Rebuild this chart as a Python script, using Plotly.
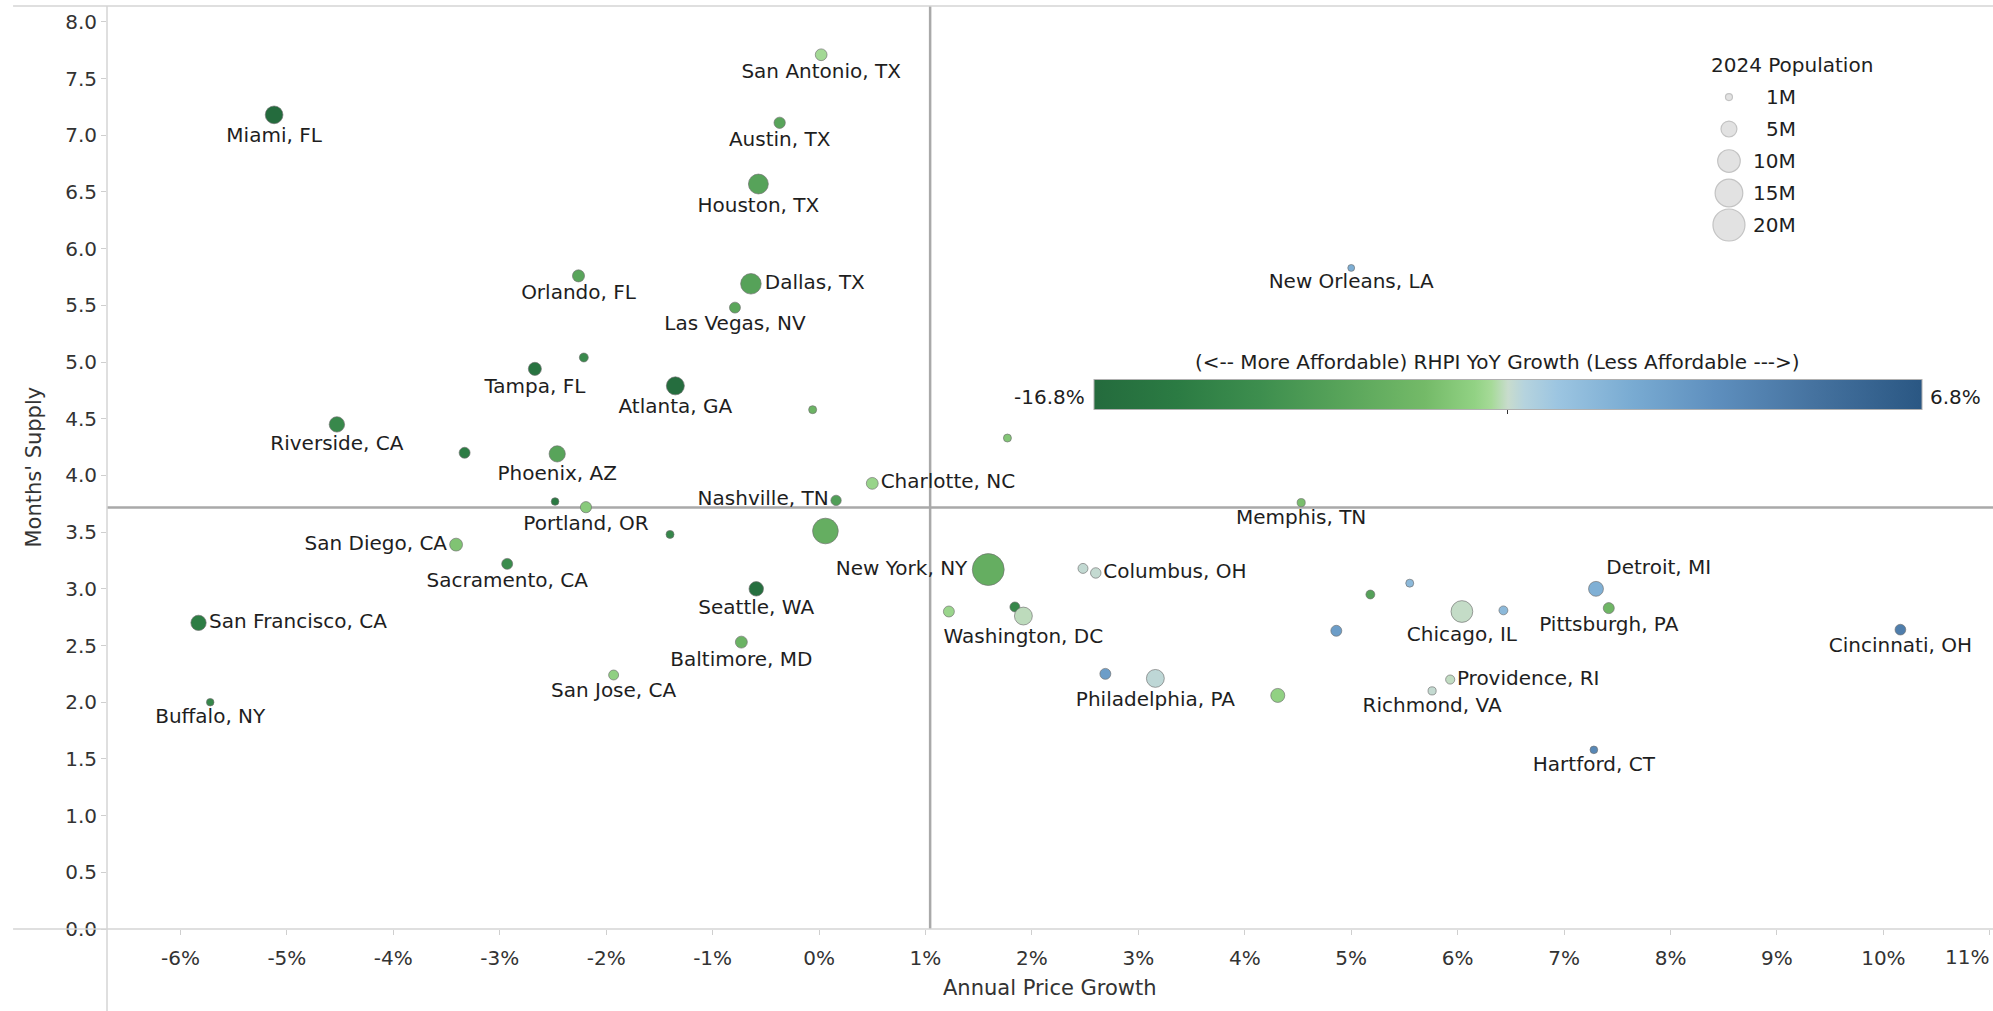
import numpy as np
import plotly.graph_objects as go

# ---------------- data ----------------
cities = [
    "Miami, FL", "Riverside, CA", "", "San Antonio, TX", "Austin, TX",
    "Houston, TX", "Orlando, FL", "Dallas, TX", "Las Vegas, NV", "Tampa, FL",
    "", "Atlanta, GA", "", "Phoenix, AZ", "Charlotte, NC",
    "New Orleans, LA", "", "", "Portland, OR", "Nashville, TN",
    "", "Sacramento, CA", "", "New York, NY", "Seattle, WA",
    "", "Baltimore, MD", "San Jose, CA", "San Diego, CA", "San Francisco, CA",
    "Buffalo, NY", "Memphis, TN", "", "Columbus, OH", "",
    "Washington, DC", "", "", "", "Chicago, IL",
    "", "", "Philadelphia, PA", "", "Providence, RI",
    "Richmond, VA", "Detroit, MI", "Pittsburgh, PA", "Cincinnati, OH", "Hartford, CT",
]
price_growth = [  # annual price growth, %
    -5.12, -4.53, -3.33, 0.02, -0.37,
    -0.57, -2.26, -0.64, -0.79, -2.67,
    -2.21, -1.35, -0.06, -2.46, 0.50,
    5.00, 1.77, -2.48, -2.19, 0.16,
    -1.40, -2.93, 0.06, 1.59, -0.59,
    1.22, -0.73, -1.93, -3.41, -5.83,
    -5.72, 4.53, 2.48, 2.60, 1.84,
    1.92, 5.18, 5.55, 4.86, 6.04,
    6.43, 2.69, 3.16, 4.31, 5.93,
    5.76, 7.30, 7.42, 10.16, 7.28,
]
months_supply = [
    7.18, 4.45, 4.20, 7.71, 7.11,
    6.57, 5.76, 5.69, 5.48, 4.94,
    5.04, 4.79, 4.58, 4.19, 3.93,
    5.83, 4.33, 3.77, 3.72, 3.78,
    3.48, 3.22, 3.51, 3.17, 3.00,
    2.80, 2.53, 2.24, 3.39, 2.70,
    2.00, 3.76, 3.18, 3.14, 2.84,
    2.76, 2.95, 3.05, 2.63, 2.80,
    2.81, 2.25, 2.21, 2.06, 2.20,
    2.10, 3.00, 2.83, 2.64, 1.58,
]
population_m = [  # 2024 population, millions
    6.2, 4.7, 2.4, 2.76, 2.55,
    7.8, 2.9, 8.3, 2.4, 3.4,
    1.6, 6.4, 1.3, 5.2, 2.8,
    0.96, 1.3, 1.2, 2.5, 2.15,
    1.3, 2.4, 12.9, 19.9, 4.15,
    2.4, 2.85, 2.0, 3.3, 4.65,
    1.15, 1.34, 2.0, 2.2, 2.0,
    6.3, 1.6, 1.3, 2.4, 9.3,
    1.6, 2.4, 6.3, 3.9, 1.68,
    1.35, 4.4, 2.43, 2.3, 1.2,
]
rhpi_growth = [  # RHPI YoY growth, %
    -16.8, -12.8, -14.3, -5.55, -9.7,
    -9.8, -9.6, -9.9, -9.5, -15.6,
    -12.6, -16.5, -8.0, -9.7, -5.8,
    -1.7, -6.65, -14.8, -6.4, -10.4,
    -13.0, -12.3, -8.6, -8.6, -16.2,
    -5.75, -8.1, -6.05, -6.8, -14.2,
    -13.0, -7.1, -4.85, -4.9, -12.9,
    -5.15, -10.0, -2.6, -0.3, -5.05,
    -2.6, -0.3, -4.75, -6.0, -5.1,
    -4.9, -1.9, -7.8, 2.55, 1.6,
]
rhpi_min, rhpi_max = -16.8, 6.8
legend_pops = [1, 5, 10, 15, 20]
legend_labels = ["1M", "5M", "10M", "15M", "20M"]
x_tick_vals = list(range(-6, 12))
x_tick_text = [f"{v}%" for v in x_tick_vals]

# label placement (style)
label_side = {
    "Dallas, TX": "middle right", "Charlotte, NC": "middle right",
    "San Francisco, CA": "middle right", "Columbus, OH": "middle right",
    "Providence, RI": "middle right",
    "Nashville, TN": "middle left", "San Diego, CA": "middle left",
    "New York, NY": "middle left",
    "Detroit, MI": "top right",
}
text_pos = [label_side.get(c, "bottom center") for c in cities]

FONT = "DejaVu Sans"
TXT = "#1e1e1e"


def diam(p):
    return 7.2 * np.sqrt(np.asarray(p, dtype=float)) - 0.2


colorscale = [
    [0.0, "#246b3d"], [0.1, "#2b7b43"], [0.2, "#3d8e4e"], [0.3, "#58a45a"],
    [0.4, "#74ba68"], [0.46, "#92d284"], [0.48, "#a6da98"], [0.5, "#c8dccd"],
    [0.52, "#b5d3de"], [0.56, "#9cc5e1"], [0.65, "#79abd2"], [0.75, "#5e8fbe"],
    [0.87, "#45729f"], [1.0, "#2a5783"],
]

fig = go.Figure()

# reference lines (averages)
avg_x = float(np.mean(price_growth))
avg_y = float(np.mean(months_supply))
fig.add_shape(type="line", xref="x", yref="paper", x0=avg_x, x1=avg_x, y0=0, y1=1,
              line=dict(color="#a9a9a9", width=2.5), layer="below")
fig.add_shape(type="line", xref="paper", yref="y", x0=0, x1=1, y0=avg_y, y1=avg_y,
              line=dict(color="#a9a9a9", width=2.5), layer="below")

fig.add_trace(go.Scatter(
    x=price_growth, y=months_supply, mode="markers+text",
    text=cities, textposition=text_pos,
    textfont=dict(family=FONT, size=20, color=TXT),
    marker=dict(
        size=diam(population_m), sizemode="diameter",
        color=rhpi_growth, colorscale=colorscale, cmin=rhpi_min, cmax=rhpi_max,
        line=dict(color="rgba(110,110,110,0.65)", width=1),
        opacity=1,
        colorbar=dict(
            orientation="h", x=0.7428, xanchor="center", y=0.5764, yanchor="middle",
            len=0.439, lenmode="fraction", thickness=30, thicknessmode="pixels",
            outlinecolor="#b0b0b0", outlinewidth=1, xpad=0, ypad=0,
            tickvals=[(rhpi_min + rhpi_max) / 2], ticks="outside", ticklen=4,
            tickcolor="#333", showticklabels=False,
        ),
    ),
    cliponaxis=False, showlegend=False, hoverinfo="text",
))

# size legend
fig.add_trace(go.Scatter(
    x=[0] * len(legend_pops), y=legend_labels, xaxis="x2", yaxis="y2",
    mode="markers",
    marker=dict(size=diam(legend_pops), color="#d6d6d6",
                line=dict(color="#ababab", width=1.2)),
    showlegend=False, hoverinfo="skip", cliponaxis=False,
))

annotations = [
    dict(text="Annual Price Growth", xref="paper", yref="paper", x=0.5, y=-0.0639,
         xanchor="center", yanchor="middle", showarrow=False,
         font=dict(family=FONT, size=21, color="#333")),
    dict(text="Months' Supply", xref="paper", yref="paper", x=-0.0392, y=0.5,
         xanchor="center", yanchor="middle", textangle=-90, showarrow=False,
         font=dict(family=FONT, size=21, color="#333")),
    dict(text="(<-- More Affordable) RHPI YoY Growth (Less Affordable --->)",
         xref="paper", yref="paper", x=0.7375, y=0.6143, xanchor="center",
         yanchor="middle", showarrow=False, font=dict(family=FONT, size=20, color=TXT)),
    dict(text=f"{rhpi_min}%", xref="paper", yref="paper", x=0.5196, y=0.5764,
         xanchor="right", yanchor="middle", showarrow=False,
         font=dict(family=FONT, size=20, color=TXT)),
    dict(text=f"{rhpi_max}%", xref="paper", yref="paper", x=0.9655, y=0.5764,
         xanchor="left", yanchor="middle", showarrow=False,
         font=dict(family=FONT, size=20, color=TXT)),
    dict(text="2024 Population", xref="paper", yref="paper", x=0.8934, y=0.9361,
         xanchor="center", yanchor="middle", showarrow=False,
         font=dict(family=FONT, size=20, color=TXT)),
    # last x tick label, pinned inside the right edge (it would overflow the page)
    dict(text=x_tick_text[-1], xref="paper", yref="paper", x=0.999, y=-0.0308,
         xanchor="right", yanchor="middle", showarrow=False,
         font=dict(family=FONT, size=20, color="#333")),
]
for lab in legend_labels:
    annotations.append(dict(text=lab, xref="paper", yref="y2", x=0.8966, y=lab,
                            xanchor="right", yanchor="middle", showarrow=False,
                            font=dict(family=FONT, size=20, color=TXT)))

# frame lines in Tableau style
frame = dict(color="#d4d4d4", width=1.5)
fig.add_shape(type="line", xref="paper", yref="paper", x0=-0.0498, x1=1, y0=1, y1=1, line=frame)
fig.add_shape(type="line", xref="paper", yref="paper", x0=-0.0498, x1=1, y0=0, y1=0, line=frame)
fig.add_shape(type="line", xref="paper", yref="paper", x0=0, x1=0, y0=-0.0888, y1=1, line=frame)

fig.update_layout(
    width=1993, height=1011,
    margin=dict(l=107, r=0, t=6, b=82, pad=0, autoexpand=False),
    paper_bgcolor="white", plot_bgcolor="white",
    font=dict(family=FONT, size=20, color="#333"),
    annotations=annotations,
    xaxis=dict(range=[-6.69, 11.03], tickvals=x_tick_vals, ticktext=x_tick_text,
               ticks="outside", ticklen=5, tickcolor="#cfcfcf", showgrid=False,
               zeroline=False, showline=False, ticklabelstandoff=6,
               ticklabeloverflow="hide past div", automargin=False,
               tickfont=dict(family=FONT, size=20, color="#333")),
    yaxis=dict(range=[0, 8.14], dtick=0.5, tick0=0, tickformat=".1f",
               ticks="outside", ticklen=5, tickcolor="#cfcfcf", showgrid=False,
               zeroline=False, showline=False, automargin=False,
               tickfont=dict(family=FONT, size=20, color="#333")),
    xaxis2=dict(domain=[0.84, 0.88], range=[-1, 1], visible=False, anchor="y2"),
    yaxis2=dict(domain=[0.7454, 0.9187], range=[4.5, -0.5], visible=False,
                anchor="x2", type="category"),
)

fig.write_html("out.html", config={"displayModeBar": False},
               post_script="document.body.style.margin='0';document.body.style.overflow='hidden';")
